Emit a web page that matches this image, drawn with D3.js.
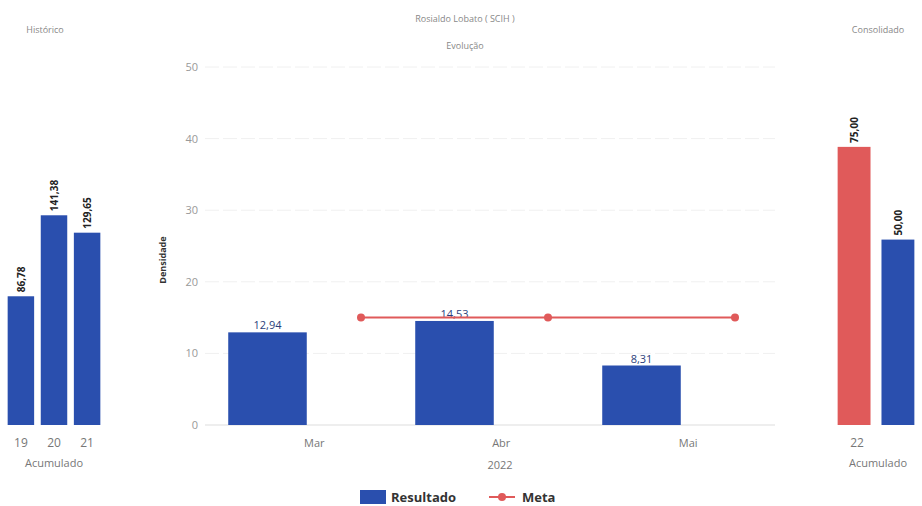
<!DOCTYPE html>
<html><head><meta charset="utf-8">
<script src="https://cdn.jsdelivr.net/npm/d3@7"></script>
<style>body{margin:0;background:#fff}svg{display:block;font-family:"Open Sans",Arial,sans-serif}</style>
</head><body><svg id="c" width="922" height="506"></svg>
<script>
// Data
const histCategories = ["19","20","21"];
const histValues = [86.78, 141.38, 129.65];
const histLabels = ["86,78","141,38","129,65"];
const months = ["Mar","Abr","Mai"];
const resultado = [12.94, 14.53, 8.31];
const resultadoLabels = ["12,94","14,53","8,31"];
const meta = [15, 15, 15];
const yTicks = [0,10,20,30,40,50];
const consCategories = ["Meta","Resultado"];
const consValues = [75.00, 50.00];
const consLabels = ["75,00","50,00"];

const BLUE = "#2a4fae", RED = "#e05a5a";
const svg = d3.select("#c");
const y0 = 425, yTop = 69;

// Historical panel
const hx = d3.scaleBand().domain(histCategories).range([6, 102]).paddingInner(0.2).paddingOuter(0.05);
const hy = d3.scaleLinear().domain([0, 240]).range([y0, yTop]);
svg.append("text").attr("x", 45).attr("y", 33).attr("text-anchor","middle").attr("font-size",9).attr("fill","#888").text("Histórico");
svg.selectAll(".hb").data(histValues).join("rect")
  .attr("x",(d,i)=>hx(histCategories[i])).attr("width",hx.bandwidth())
  .attr("y",d=>hy(d)).attr("height",d=>y0-hy(d)).attr("fill",BLUE);
svg.selectAll(".hl").data(histValues).join("text")
  .attr("transform",(d,i)=>`translate(${hx(histCategories[i])+hx.bandwidth()/2+4},${hy(d)-4}) rotate(-90)`)
  .attr("font-size",10).attr("fill","#222").attr("font-weight","bold").text((d,i)=>histLabels[i]);
svg.selectAll(".ht").data(histCategories).join("text")
  .attr("x",d=>hx(d)+hx.bandwidth()/2).attr("y",447).attr("text-anchor","middle")
  .attr("font-size",12).attr("fill","#777").text(d=>d);
svg.append("text").attr("x",54).attr("y",467).attr("text-anchor","middle").attr("font-size",11).attr("fill","#777").text("Acumulado");

// Main panel
const x = d3.scaleBand().domain(months).range([174, 735]).paddingInner(0.58).paddingOuter(0.29);
const step = x.step();
const y = d3.scaleLinear().domain([0, 50]).range([y0, 67]);
svg.append("text").attr("x",465).attr("y",22).attr("text-anchor","middle").attr("font-size",9).attr("fill","#888").text("Rosialdo Lobato ( SCIH )");
svg.append("text").attr("x",465).attr("y",49).attr("text-anchor","middle").attr("font-size",9).attr("fill","#888").text("Evolução");
const grid = svg.append("g");
grid.selectAll("line").data(yTicks).join("line")
  .attr("x1",205).attr("x2",775).attr("y1",d=>y(d)).attr("y2",d=>y(d))
  .attr("stroke",d=>d===0?"#dddddd":"#f0f0f0").attr("stroke-width",1)
  .attr("stroke-dasharray",d=>d===0?null:"14,4");
svg.selectAll(".yt").data(yTicks).join("text")
  .attr("x",198).attr("y",d=>y(d)+4).attr("text-anchor","end").attr("font-size",11).attr("fill","#999").text(d=>d);
svg.append("text").attr("transform","translate(166,260) rotate(-90)").attr("text-anchor","middle")
  .attr("font-size",9).attr("fill","#333").attr("font-weight","bold").text("Densidade");
svg.selectAll(".mb").data(resultado).join("rect")
  .attr("x",(d,i)=>x(months[i])).attr("width",x.bandwidth())
  .attr("y",d=>y(d)).attr("height",d=>y0-y(d)).attr("fill",BLUE);
svg.selectAll(".ml").data(resultado).join("text")
  .attr("x",(d,i)=>x(months[i])+x.bandwidth()/2).attr("y",d=>y(d)-3).attr("text-anchor","middle")
  .attr("font-size",11).attr("fill","#2c3e7a").text((d,i)=>resultadoLabels[i]);
const mx = (i)=>x(months[i])+x.bandwidth()/2+step/2;
svg.append("path").datum(meta).attr("fill","none").attr("stroke",RED).attr("stroke-width",2)
  .attr("d", d3.line().x((d,i)=>mx(i)).y(d=>y(d)));
svg.selectAll(".md").data(meta).join("circle").attr("cx",(d,i)=>mx(i)).attr("cy",d=>y(d)).attr("r",4).attr("fill",RED);
svg.selectAll(".xt").data(months).join("text")
  .attr("x",d=>x(d)+x.bandwidth()/2+step/4).attr("y",447).attr("text-anchor","middle")
  .attr("font-size",11).attr("fill","#777").text(d=>d);
svg.append("text").attr("x",500).attr("y",469).attr("text-anchor","middle").attr("font-size",11).attr("fill","#777").text("2022");

// Legend
svg.append("rect").attr("x",360).attr("y",490).attr("width",26).attr("height",14).attr("fill",BLUE);
svg.append("text").attr("x",391).attr("y",502).attr("font-size",13).attr("font-weight","bold").attr("fill","#333").text("Resultado");
svg.append("line").attr("x1",489).attr("x2",515).attr("y1",497).attr("y2",497).attr("stroke",RED).attr("stroke-width",2);
svg.append("circle").attr("cx",502).attr("cy",497).attr("r",4).attr("fill",RED);
svg.append("text").attr("x",522).attr("y",502).attr("font-size",13).attr("font-weight","bold").attr("fill","#333").text("Meta");

// Consolidated panel
const cx = d3.scaleBand().domain(consCategories).range([835, 917]).paddingInner(0.25).paddingOuter(0.06);
const cy = d3.scaleLinear().domain([0, 96]).range([y0, yTop]);
svg.append("text").attr("x",878).attr("y",33).attr("text-anchor","middle").attr("font-size",9).attr("fill","#888").text("Consolidado");
svg.selectAll(".cb").data(consValues).join("rect")
  .attr("x",(d,i)=>cx(consCategories[i])).attr("width",cx.bandwidth())
  .attr("y",d=>cy(d)).attr("height",d=>y0-cy(d)).attr("fill",(d,i)=>i===0?RED:BLUE);
svg.selectAll(".cl").data(consValues).join("text")
  .attr("transform",(d,i)=>`translate(${cx(consCategories[i])+cx.bandwidth()/2+4},${cy(d)-4}) rotate(-90)`)
  .attr("font-size",10).attr("fill","#222").attr("font-weight","bold").text((d,i)=>consLabels[i]);
svg.append("text").attr("x",857).attr("y",447).attr("text-anchor","middle").attr("font-size",12).attr("fill","#777").text("22");
svg.append("text").attr("x",878).attr("y",467).attr("text-anchor","middle").attr("font-size",11).attr("fill","#777").text("Acumulado");
</script></body></html>
